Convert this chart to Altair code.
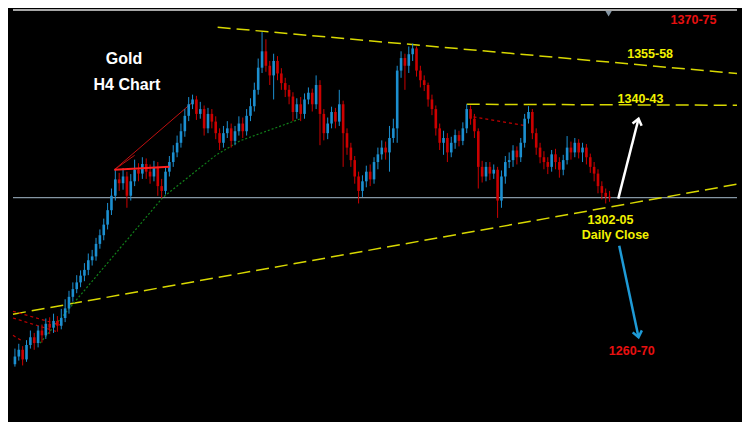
import altair as alt
import pandas as pd

# ---- candle data (4-hour bars, price in USD) ----
closes = [
    1237.2, 1240.0, 1236.0, 1242.0, 1245.2, 1242.8, 1248.0, 1246.0, 1250.8, 1249.2,
    1252.0, 1250.0, 1253.2, 1257.2, 1262.0, 1265.2, 1268.0, 1270.8, 1273.2, 1277.2,
    1278.8, 1284.0, 1287.6, 1292.0, 1298.0, 1304.0, 1310.8, 1309.2, 1312.0, 1304.0,
    1310.0, 1314.8, 1313.2, 1317.2, 1314.0, 1312.0, 1316.0, 1308.0, 1306.0, 1314.0,
    1318.0, 1322.0, 1326.0, 1330.8, 1337.2, 1342.0, 1344.0, 1338.0, 1340.0, 1332.0,
    1338.0, 1334.8, 1330.0, 1326.0, 1330.0, 1332.0, 1326.8, 1330.8, 1334.0, 1330.8,
    1337.2, 1341.2, 1348.0, 1357.2, 1364.0, 1358.0, 1354.0, 1360.0, 1354.8, 1350.8,
    1348.0, 1345.2, 1338.8, 1342.0, 1338.0, 1344.0, 1346.8, 1342.0, 1350.0, 1338.0,
    1330.0, 1334.0, 1338.8, 1334.8, 1342.0, 1330.0, 1324.0, 1318.8, 1312.0, 1306.0,
    1310.0, 1314.0, 1310.8, 1318.0, 1321.2, 1324.0, 1322.0, 1328.0, 1332.0, 1356.0,
    1361.2, 1358.0, 1362.8, 1365.2, 1356.0, 1352.0, 1350.0, 1344.0, 1340.0, 1332.0,
    1326.0, 1328.0, 1322.0, 1326.0, 1329.2, 1326.8, 1332.0, 1340.0, 1336.0, 1330.8,
    1316.0, 1312.0, 1316.0, 1313.2, 1314.8, 1302.0, 1312.0, 1318.0, 1318.8, 1322.8,
    1320.0, 1326.0, 1336.0, 1338.8, 1330.0, 1324.0, 1320.0, 1318.0, 1316.0, 1321.2,
    1318.0, 1314.8, 1318.8, 1324.0, 1322.0, 1326.0, 1322.0, 1324.0, 1320.0, 1316.0,
    1313.2, 1308.0, 1305.2, 1303.6, 1303.2,
]
highs = [
    1240.5, 1242.5, 1241.5, 1244, 1248, 1247, 1250, 1250.5, 1253, 1253.5,
    1255, 1254, 1257, 1261, 1264.5, 1268, 1271, 1273, 1276, 1280,
    1281.5, 1286.5, 1290, 1294.5, 1301, 1307, 1315, 1313.5, 1315.5, 1314,
    1313, 1319, 1317.5, 1320, 1319.5, 1317, 1318.5, 1318, 1311, 1316,
    1320.5, 1325, 1329, 1334, 1340, 1345, 1346, 1345.5, 1343, 1341.5,
    1340.5, 1340, 1337, 1332, 1333, 1335, 1334, 1333, 1337, 1336.5,
    1340, 1344.5, 1351, 1361, 1372, 1369, 1360, 1363, 1362, 1357,
    1353, 1350, 1347, 1344.5, 1345, 1346.5, 1349, 1348.5, 1354, 1352,
    1340, 1336.5, 1341, 1340.5, 1348, 1343.5, 1332, 1326, 1320.5, 1314,
    1312.5, 1316.5, 1317, 1320, 1324, 1327, 1326.5, 1333, 1336, 1358,
    1364, 1363, 1366, 1367.2, 1366, 1358, 1354, 1351, 1346, 1341.5,
    1334, 1331, 1330, 1328.5, 1331.5, 1331, 1334.5, 1342, 1341.5, 1338,
    1332, 1318.5, 1318, 1318, 1317, 1316, 1314.5, 1320.5, 1322, 1325,
    1324.5, 1328, 1338, 1341.2, 1340, 1332, 1326, 1322.5, 1320, 1323,
    1323.5, 1320, 1321, 1328.8, 1326.5, 1328, 1327.5, 1326, 1325.5, 1321.5,
    1318, 1315, 1310, 1307, 1306,
]
lows = [
    1233, 1235.5, 1233.5, 1235, 1240.5, 1240, 1241, 1243, 1244.5, 1246.5,
    1247, 1247.5, 1248.5, 1251.5, 1255, 1260, 1263.5, 1266, 1268.5, 1271,
    1275, 1277, 1282, 1285.5, 1290, 1296, 1302, 1306, 1306.5, 1299,
    1302, 1308, 1310, 1311, 1311, 1309, 1310, 1304, 1303, 1304.5,
    1312, 1316, 1320, 1324, 1328.5, 1335, 1340, 1335.5, 1336, 1329,
    1330, 1332, 1327.5, 1323, 1324, 1328, 1324, 1325, 1329, 1328,
    1329, 1335, 1339, 1346, 1355, 1355.5, 1350, 1344, 1352, 1348,
    1345, 1342, 1335, 1336, 1335, 1336, 1342, 1339, 1340, 1325,
    1327, 1327.5, 1332, 1332, 1333, 1316, 1321, 1316, 1309, 1300.8,
    1303.5, 1307.5, 1308, 1309, 1315, 1319, 1319, 1314, 1326, 1326,
    1353, 1348, 1355, 1360, 1353.5, 1349, 1347.5, 1341, 1337.5, 1329,
    1323, 1321, 1318, 1320, 1323.5, 1324.5, 1325, 1330, 1333.5, 1328,
    1307, 1309.5, 1310, 1310.5, 1311, 1294.8, 1299, 1309, 1315.5, 1316,
    1317, 1318, 1324, 1334, 1327.5, 1321, 1317.5, 1315, 1313, 1314,
    1315, 1311.5, 1312.5, 1317, 1319, 1320, 1319.5, 1318, 1317, 1313.5,
    1310, 1305, 1302.5, 1300.8, 1301.5,
]
first_open = 1234.0

# ---- annotation lines (bar index, price) ----
yellow_lines = {
    "x1": [52.5, 117, -0.5], "y1": [1374.0, 1342.0, 1254.8],
    "x2": [187, 187, 187], "y2": [1354.8, 1341.6, 1308.8],
}
green_x = [6.5, 38.25, 52, 58.25, 74]
green_y = [1242.8, 1303.2, 1320.8, 1326.8, 1336.0]
red_thin = {"x1": [25.75, 25.75], "y1": [1314.8, 1314.8], "x2": [46.25, 31], "y2": [1343.2, 1320.8]}
red_thick = {"x1": [25.75], "y1": [1314.8], "x2": [40], "y2": [1316.0]}
red_dotted = {
    "x1": [118.75, -0.5, -0.5, -0.5], "y1": [1336.8, 1256.0, 1253.2, 1246.0],
    "x2": [132, 12.5, 10.75, 1.5], "y2": [1333.2, 1250.0, 1247.6, 1244.0],
}
current_price = 1303.2
top_border = 1381.2

labels_text = ["Gold", "H4 Chart", "1370-75", "1355-58", "1340-43", "1302-05", "Daily Close", "1260-70"]
labels_x = [28.25, 29, 175.75, 164.5, 162, 154.25, 155.5, 159.75]
labels_y = [1360.8, 1350.0, 1377.2, 1362.8, 1344.0, 1294.0, 1287.6, 1239.6]
labels_color = ["#ffffff", "#ffffff", "#e81010", "#f2f200", "#f2f200", "#f2f200", "#f2f200", "#e81010"]
labels_size = [16, 16, 12.5, 12.5, 12.5, 12.5, 12.5, 12.5]

arrows = {"x1": [156.25, 156.5], "y1": [1302.8, 1283.2], "x2": [161.5, 161.5], "y2": [1336.0, 1245.2],
          "color": ["#ffffff", "#1e9ad6"], "angle": [14, 168]}

# ---- build tables ----
n = len(closes)
opens = [first_open] + closes[:-1]
candles = pd.DataFrame({
    "i": list(range(n)), "open": opens, "close": closes,
    "high": highs[:n], "low": lows[:n],
})
candles["dir"] = ["up" if c >= o else "down" for o, c in zip(candles["open"], candles["close"])]

XS = alt.Scale(domain=[-0.5, 187], nice=False, zero=False)
YS = alt.Scale(domain=[1210, 1382], nice=False, zero=False)
col = alt.Color("dir:N", scale=alt.Scale(domain=["up", "down"], range=["#1c8fd0", "#cc0000"]), legend=None)

def X(f):
    return alt.X(f, type="quantitative", scale=XS, axis=None)

def Y(f):
    return alt.Y(f, type="quantitative", scale=YS, axis=None)

wicks = alt.Chart(candles).mark_rule(strokeWidth=1).encode(
    x=X("i"), y=Y("low"), y2="high", color=col)
bodies = alt.Chart(candles).mark_bar(width=2.6).encode(
    x=X("i"), y=Y("open"), y2="close", color=col)

def seg_layer(d, color, width=1.0, dash=None, opacity=1.0):
    kw = dict(color=color, strokeWidth=width, opacity=opacity)
    if dash:
        kw["strokeDash"] = dash
    return alt.Chart(pd.DataFrame(d)).mark_rule(**kw).encode(
        x=X("x1"), y=Y("y1"), x2="x2", y2="y2")

hline_df = pd.DataFrame({"x1": [-0.5, -0.5], "x2": [187, 187], "y": [current_price, top_border],
                         "c": ["#8596a4", "#a8a8a8"], "w": [1.2, 2.0]})
hlines = alt.Chart(hline_df).mark_rule().encode(
    x=X("x1"), x2="x2", y=Y("y"),
    color=alt.Color("c:N", scale=None), strokeWidth=alt.StrokeWidth("w:Q", scale=None))

yellow = seg_layer(yellow_lines, "#d8d800", 1.5, [13, 6])
green = alt.Chart(pd.DataFrame({"x": green_x, "y": green_y, "o": list(range(len(green_x)))})).mark_line(
    color="#11801a", strokeWidth=1.2, strokeDash=[2, 2]).encode(x=X("x"), y=Y("y"), order="o:Q")
redthin = seg_layer(red_thin, "#c01010", 1.0)
redthick = seg_layer(red_thick, "#ff2020", 2.0)
reddot = seg_layer(red_dotted, "#c00000", 1.2, [3, 3])

arr_df = pd.DataFrame(arrows)
arrow_shafts = alt.Chart(arr_df).mark_rule(strokeWidth=2.5).encode(
    x=X("x1"), y=Y("y1"), x2="x2", y2="y2", color=alt.Color("color:N", scale=None))
arrow_heads = alt.Chart(arr_df).mark_point(
    shape="M -0.7 0.9 L 0 0 L 0.7 0.9", filled=False, size=180, strokeWidth=2.5, opacity=1).encode(
    x=X("x2"), y=Y("y2"), color=alt.Color("color:N", scale=None), angle=alt.Angle("angle:Q", scale=None))

marker = alt.Chart(pd.DataFrame({"x": [153.75], "y": [1379.6]})).mark_point(
    shape="triangle-down", filled=True, size=40, color="#8596a4", opacity=1).encode(x=X("x"), y=Y("y"))

lab_df = pd.DataFrame({"t": labels_text, "x": labels_x, "y": labels_y, "c": labels_color, "s": labels_size})
labels = alt.Chart(lab_df).mark_text(font="Liberation Sans", fontWeight="bold", align="center",
                                     baseline="middle").encode(
    x=X("x"), y=Y("y"), text="t:N", color=alt.Color("c:N", scale=None), size=alt.Size("s:Q", scale=None))

chart = alt.layer(
    hlines, yellow, green, redthin, reddot, wicks, bodies, redthick,
    arrow_shafts, arrow_heads, marker, labels
).properties(
    width=734, height=414, padding=0, background="#000000",
    autosize=alt.AutoSizeParams(type="fit", contains="padding"),
).configure_view(strokeWidth=0)

chart.save("out.html", embed_options={"renderer": "svg", "actions": False})
